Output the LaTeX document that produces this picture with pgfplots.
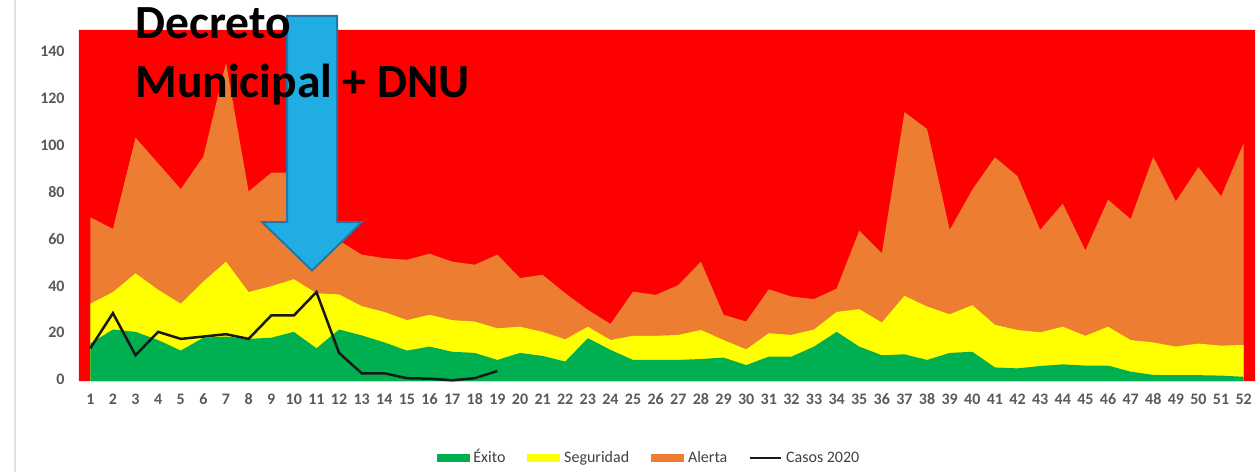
\documentclass[border=0pt]{standalone}
\usepackage{pgfplots}
\pgfplotsset{compat=1.18}
\usepackage{fontspec}
\setmainfont{Carlito}

\definecolor{rojo}{HTML}{FF0000}
\definecolor{naranja}{HTML}{ED7D31}
\definecolor{amarillo}{HTML}{FFFF00}
\definecolor{verde}{HTML}{00B050}
\definecolor{flecha}{HTML}{1FADE4}
\definecolor{flechaborde}{HTML}{2277AA}
\definecolor{gristick}{HTML}{595959}

% semana, exito (tope verde), seguridad (tope amarillo), alerta (tope naranja)
\pgfplotstableread{
sem exito seg alerta
1  16   33   70
2  22   38   65
3  21   46   104
4  17.5 39   93
5  13   33   82
6  18.5 42.5 96
7  19   51   136
8  18   38   81
9  18.5 40.5 89
10 21   43.5 89
11 14   37.5 75
12 22   37   60
13 19.5 32   54
14 16.5 29.5 52.5
15 13   26   51.8
16 14.7 28.3 54.4
17 12.5 26   51
18 12   25.4 49.7
19 9    22.5 54
20 12   23.2 44
21 10.7 21   45.4
22 8.3  17.8 37.5
23 18.3 23.2 30.4
24 13.3 17.5 24.4
25 9    19.3 38.2
26 9    19.3 36.8
27 9    19.7 41
28 9.4  21.8 51
29 10   17.5 28.3
30 6.8  13.5 25.4
31 10.4 20.4 39.2
32 10.4 19.7 36.1
33 14.7 22   35
34 21   29.5 39.5
35 14.7 30.7 64.3
36 11   25   54.6
37 11.4 36.4 114.9
38 9    31.8 107.7
39 12   28.5 64.6
40 12.5 32.4 81.8
41 5.8  24   95.6
42 5.4  21.8 87.5
43 6.4  20.8 64.6
44 7.1  23.2 75.8
45 6.6  19.3 55.8
46 6.6  23.2 77.5
47 4    17.5 69.2
48 2.6  16.5 95.8
49 2.5  14.7 76.8
50 2.5  16   91.4
51 2.3  15.1 78.9
52 1.8  15.4 101.7
}\canal

\pgfplotstableread{
sem casos
1  14
2  29
3  11
4  21
5  18
6  19
7  20
8  18
9  28
10 28
11 38
12 12
13 3.3
14 3.3
15 1.2
16 1
17 0.3
18 1.2
19 4.3
}\casos

\begin{document}
\begin{tikzpicture}
\begin{axis}[
    at={(0,0)}, anchor=south west,
    scale only axis,
    width=588pt, height=175.5pt,
    xmin=0.5, xmax=52.5,
    ymin=0, ymax=150,
    xtick={1,...,52},
    ytick={0,20,...,140},
    axis line style={draw=none},
    major tick length=0pt,
    /pgf/number format/assume math mode=true,
    typeset ticklabels with strut,
    tick label style={font=\fontsize{8}{9}\selectfont\bfseries, text=gristick},
    yticklabel style={inner sep=0pt, xshift=-7pt},
    xticklabel style={inner sep=0pt, yshift=-5pt},
    clip=false,
    legend columns=4,
    legend style={draw=none, fill=none, at={(0.4855,-0.219)}, anchor=center,
        font=\fontsize{8}{9}\selectfont, text=black!75,
        nodes={text height=6pt, text depth=1.5pt},
        /tikz/every even column/.append style={column sep=9pt}},
]
% fondo rojo (epidemia)
\addplot[fill=rojo, draw=none, forget plot] coordinates {(0.5,0) (0.5,150) (52.5,150) (52.5,0)} \closedcycle;
% zonas del canal endemico
\addplot[fill=naranja, draw=none, forget plot] table[x=sem, y=alerta] {\canal} \closedcycle;
\addplot[fill=amarillo, draw=none, forget plot] table[x=sem, y=seg] {\canal} \closedcycle;
\addplot[fill=verde, draw=none, forget plot] table[x=sem, y=exito] {\canal} \closedcycle;
% casos 2020
\addplot[black!90, line width=1.25pt, forget plot] table[x=sem, y=casos] {\casos};

\addlegendimage{legend image code/.code={\fill[verde] (0pt,-1.6pt) rectangle (16pt,1.6pt);}}
\addlegendentry{Éxito}
\addlegendimage{legend image code/.code={\fill[amarillo] (0pt,-1.6pt) rectangle (16pt,1.6pt);}}
\addlegendentry{Seguridad}
\addlegendimage{legend image code/.code={\fill[naranja] (0pt,-1.6pt) rectangle (16pt,1.6pt);}}
\addlegendentry{Alerta}
\addlegendimage{legend image code/.code={\draw[black!90, line width=0.9pt] (0pt,0pt) -- (15.5pt,0pt);}}
\addlegendentry{Casos 2020}
\end{axis}

% borde gris a la izquierda
\draw[black!12, line width=0.8pt] (-32pt,-45.5pt) -- (-32pt,190.5pt);

% flecha y texto
\draw[fill=flecha, draw=flechaborde, line width=1pt]
    (104pt,182.5pt) -- (129pt,182.5pt) -- (129pt,79.5pt) -- (141.5pt,79.5pt)
    -- (116.5pt,55.25pt) -- (91.5pt,79.5pt) -- (104pt,79.5pt) -- cycle;
\node[anchor=base west, inner sep=0pt, font=\fontsize{23.8}{26}\selectfont\bfseries] at (28pt,171.5pt) {Decreto};
\node[anchor=base west, inner sep=0pt, font=\fontsize{23.8}{26}\selectfont\bfseries] at (28pt,142pt) {Municipal + DNU};

\pgfresetboundingbox
\path[use as bounding box] (-39.5pt,-45.5pt) rectangle (588.5pt,190.5pt);
\end{tikzpicture}
\end{document}
